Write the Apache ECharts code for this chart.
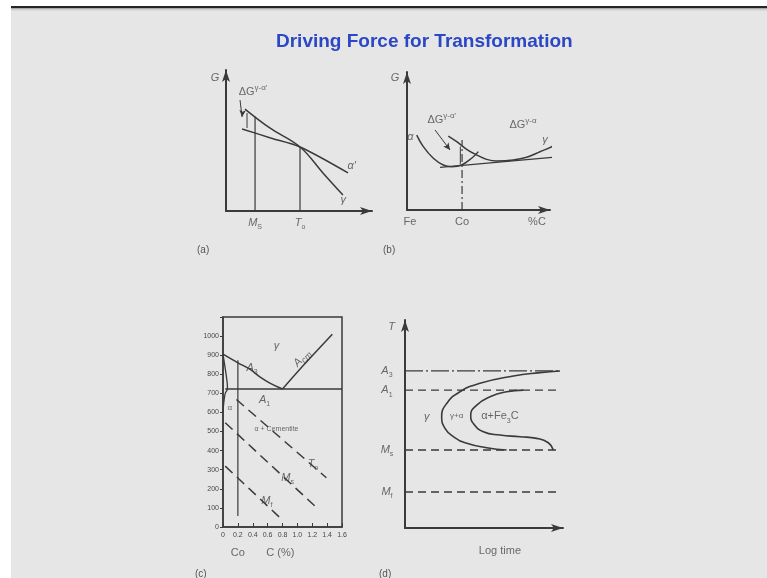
<!DOCTYPE html>
<html>
<head>
<meta charset="utf-8">
<script src="https://cdn.jsdelivr.net/npm/echarts@6/dist/echarts.min.js"></script>
<style>
  html, body {margin: 0; padding: 0; background: #fff;}
  #chart {width: 767px; height: 578px;}
</style>
</head>
<body>
<div id="chart"></div>
<script>
// (a) G against temperature
const aGamma = [[13, 72.3], [30, 58.9], [50.7, 45.4], [66.4, 27.0], [80.1, 11.3]];
const aAlphaPrime = [[11, 58.2], [30, 52.0], [50.7, 45.4], [83.6, 27.0]];
const aMsLine = [[19.9, 0], [19.9, 67]];
const aT0Line = [[50.7, 0], [50.7, 45.4]];
const aGap = [[14.4, 69.5], [14.4, 58.9]];
const aArrow = [[9.6, 78.7], [11, 66.7]];

// (b) G against carbon content
const bAlpha = [[6.8, 54.3], [11.4, 45.9], [18.4, 37.5], [25.4, 32.6], [31.3, 31.4], [38.2, 32.6], [45.2, 37.5], [49.9, 42.3]];
const bGamma = [[28.9, 53.6], [34.8, 49.5], [41.7, 44.0], [48.7, 39.9], [55.7, 36.7], [62.7, 35.5], [74.3, 36.2], [83.7, 38.2], [93.0, 42.2], [102.3, 46.4], [109.3, 51.2]];
const bTangent = [[23.1, 30.9], [105.8, 38.6]];
const bCoLine = [[38.5, 0], [38.5, 50.7]];
const bGap = [[37.3, 33.2], [37.3, 46]];
const bArrow = [[19.6, 58], [30.1, 43.5]];

// (c) Fe-C diagram, carbon % against temperature
const cA3 = [[0, 905], [0.2, 860], [0.36, 827], [0.5, 785], [0.63, 754], [0.8, 723]];
const cAcm = [[0.8, 723], [1.1, 855], [1.47, 1010]];
const cA1 = [[0.03, 723], [1.6, 723]];
const cAlphaEdge = [[0, 905], [0.03, 830], [0.055, 760], [0.06, 723], [0.03, 700], [0.01, 650], [0, 600]];
const cCoLine = [[0.2, 58], [0.2, 874]];
const cT0 = [[0.18, 668], [1.39, 258]];
const cMs = [[0.03, 546], [1.26, 101]];
const cMf = [[0.03, 319], [0.79, 40]];

// (d) temperature against log time
const dLevels = [75.5, 66.3, 37.5, 17.3];
const dOuter = [[98.1, 75.5], [85.4, 74.7], [68.6, 73.1], [47.5, 69.6], [34.8, 65.5], [26.4, 59.9], [23.2, 53.5], [25.3, 47.9], [30.6, 43.9], [39.1, 40.7], [51.7, 38.6], [64.3, 37.5]];
const dInner = [[74.9, 66.3], [64.4, 65.5], [53.8, 63.1], [45.4, 59.1], [41.6, 54.3], [43.2, 50.3], [49.6, 46.3], [60.1, 44.7], [72.8, 43.9], [83.3, 43.1], [90.7, 41.0], [93.9, 37.5]];

const ink = "#3a3a3a";
const txt = "#474747";
const font = "Liberation Sans";

const rich = {
  t: {fontSize: 11, color: txt, fontFamily: font, lineHeight: 16, verticalAlign: "middle"},
  it: {fontSize: 11, color: txt, fontFamily: font, fontStyle: "italic", lineHeight: 16, verticalAlign: "middle"},
  s: {fontSize: 8, color: txt, fontFamily: font, lineHeight: 16, verticalAlign: "middle"},
  sup: {fontSize: 8, color: txt, fontFamily: font, lineHeight: 8, verticalAlign: "top"},
  sub: {fontSize: 7, color: txt, fontFamily: font, lineHeight: 8, verticalAlign: "bottom"},
  sub2: {fontSize: 9, color: txt, fontFamily: font, fontStyle: "italic", lineHeight: 12, verticalAlign: "bottom"},
  tiny: {fontSize: 7, color: txt, fontFamily: font, lineHeight: 10, verticalAlign: "middle"},
};

function line(gi, data, opts) {
  opts = opts || {};
  return {
    type: "line", xAxisIndex: gi, yAxisIndex: gi, data: data,
    symbol: "none", smooth: opts.smooth || false, clip: false, silent: true, animation: false,
    lineStyle: {color: ink, width: opts.width || 1.5, type: opts.type || "solid"},
    itemStyle: {color: ink},
  };
}

// short pointer with an arrow head on its last point
function pointer(gi, data, rotate) {
  const s = line(gi, data, {width: 1});
  s.showSymbol = true;
  s.data = data.map((p, i) => (i === data.length - 1
    ? {value: p, symbol: "arrow", symbolSize: [5, 7], symbolRotate: rotate}
    : {value: p, symbol: "none"}));
  return s;
}

function labels(gi, items) {
  return {
    type: "scatter", xAxisIndex: gi, yAxisIndex: gi, symbolSize: 0, clip: false, silent: true, animation: false,
    data: items.map(it => ({
      value: [it[0], it[1]],
      label: {show: true, position: "inside", formatter: it[2], rotate: it[3] || 0, rich: rich},
    })),
  };
}

function arrowAxis(gi, min, max) {
  return {
    gridIndex: gi, type: "value", min: min, max: max,
    axisLine: {show: true, symbol: ["none", "arrow"], symbolSize: [6, 12], lineStyle: {color: ink, width: 2}},
    axisTick: {show: false}, axisLabel: {show: false}, splitLine: {show: false},
  };
}

const grids = [
  {left: 226, top: 70, width: 146, height: 141},
  {left: 407, top: 72, width: 143, height: 138},
  {left: 223, top: 317, width: 119, height: 210, show: true, borderColor: ink, borderWidth: 1.5},
  {left: 405, top: 320, width: 158, height: 208},
];

const option = {
  backgroundColor: "#e6e6e6",
  animation: false,
  title: {
    text: "Driving Force for Transformation", left: 271, top: 27,
    textStyle: {fontFamily: font, fontSize: 19, fontWeight: "bold", color: "#2b47c6"},
  },
  grid: grids,
  xAxis: [
    arrowAxis(0, 0, 100),
    arrowAxis(1, 0, 100),
    {
      gridIndex: 2, type: "value", min: 0, max: 1.6, interval: 0.2,
      axisLine: {show: true, lineStyle: {color: ink, width: 1.5}},
      axisTick: {show: true, inside: true, length: 4, lineStyle: {color: ink}},
      axisLabel: {fontSize: 7, color: txt, fontFamily: font, margin: 5, formatter: v => (v === 0 ? "0" : v.toFixed(1))},
      splitLine: {show: false},
    },
    arrowAxis(3, 0, 100),
  ],
  yAxis: [
    arrowAxis(0, 0, 100),
    arrowAxis(1, 0, 100),
    {
      gridIndex: 2, type: "value", min: 0, max: 1100, interval: 100,
      axisLine: {show: true, lineStyle: {color: ink, width: 1.5}},
      axisTick: {show: true, length: 3, lineStyle: {color: ink}},
      axisLabel: {fontSize: 7, color: txt, fontFamily: font, margin: 4, formatter: v => (v > 1000 ? "" : String(v))},
      splitLine: {show: false},
    },
    arrowAxis(3, 0, 100),
  ],
  graphic: [
    {type: "rect", shape: {x: 0, y: 0, width: 11, height: 578}, style: {fill: "#ffffff"}, silent: true},
    {type: "rect", shape: {x: 0, y: 0, width: 767, height: 6}, style: {fill: "#ffffff"}, silent: true},
    {type: "rect", shape: {x: 11, y: 6, width: 756, height: 2.5}, style: {fill: "#262626"}, silent: true},
    {type: "rect", shape: {x: 11, y: 8.5, width: 756, height: 2}, style: {fill: "#cfcfcf"}, silent: true},
    {type: "text", left: 197, top: 245, style: {text: "(a)", fontSize: 10, fill: "#555", fontFamily: font}},
    {type: "text", left: 383, top: 245, style: {text: "(b)", fontSize: 10, fill: "#555", fontFamily: font}},
    {type: "text", left: 195, top: 569, style: {text: "(c)", fontSize: 10, fill: "#555", fontFamily: font}},
    {type: "text", left: 379, top: 569, style: {text: "(d)", fontSize: 10, fill: "#555", fontFamily: font}},
  ],
  series: [
    // (a)
    line(0, aGamma, {smooth: 0.4}),
    line(0, aAlphaPrime, {smooth: 0.3}),
    line(0, aMsLine, {width: 1.2}),
    line(0, aT0Line, {width: 1.2}),
    line(0, aGap, {width: 1}),
    pointer(0, aArrow, 175),
    labels(0, [
      [-7.5, 94.3, "{it|G}"],
      [18.5, 84.4, "{t|ΔG}{sup|γ-α'}"],
      [86.1, 31.9, "{it|α'}"],
      [80.3, 7.8, "{it|γ}"],
      [19.9, -8.5, "{it|M}{sub|S}"],
      [50.7, -8.5, "{it|T}{sub|o}"],
    ]),
    // (b)
    line(1, bAlpha, {smooth: 0.4}),
    line(1, bGamma, {smooth: 0.4}),
    line(1, bTangent, {width: 1.2}),
    line(1, bCoLine, {width: 1.2, type: [8, 3, 2, 3]}),
    line(1, bGap, {width: 1}),
    pointer(1, bArrow, 217),
    labels(1, [
      [-8.4, 95.7, "{it|G}"],
      [2.3, 53, "{it|α}"],
      [24.3, 65.2, "{t|ΔG}{sup|γ-α'}"],
      [81.1, 61.6, "{t|ΔG}{sup|γ-α}"],
      [96.5, 50.7, "{it|γ}"],
      [2.1, -8.7, "{t|Fe}"],
      [38.5, -8.7, "{t|Co}"],
      [90.9, -8.7, "{t|%C}"],
    ]),
    // (c)
    line(2, cA3, {smooth: 0.4}),
    line(2, cAcm, {smooth: 0.3}),
    line(2, cA1),
    line(2, cAlphaEdge, {smooth: 0.3, width: 1.3}),
    line(2, cCoLine, {width: 1.2}),
    line(2, cT0, {type: [10, 6]}),
    line(2, cMs, {type: [10, 6]}),
    line(2, cMf, {type: [10, 6]}),
    labels(2, [
      [0.72, 948, "{it|γ}"],
      [0.39, 835, "{it|A}{sub|3}"],
      [1.06, 885, "{it|A}{sub2|cm}", 48],
      [0.56, 668, "{it|A}{sub|1}"],
      [0.09, 625, "{s|α}"],
      [0.72, 515, "{tiny|α + Cementite}"],
      [1.21, 330, "{it|T}{sub|o}"],
      [0.87, 257, "{it|M}{sub|s}"],
      [0.59, 136, "{it|M}{sub|f}"],
      [0.2, -136, "{t|Co}"],
      [0.77, -136, "{t|C (%)}"],
    ]),
    // (d)
    line(3, [[0, dLevels[0]], [98, dLevels[0]]], {width: 1.3, type: [18, 3, 2, 3]}),
    line(3, [[0, dLevels[1]], [98, dLevels[1]]], {width: 1.3, type: [8, 5]}),
    line(3, [[0, dLevels[2]], [98, dLevels[2]]], {width: 1.3, type: [8, 5]}),
    line(3, [[0, dLevels[3]], [98, dLevels[3]]], {width: 1.3, type: [8, 5]}),
    line(3, dOuter, {smooth: 0.5, width: 1.6}),
    line(3, dInner, {smooth: 0.5, width: 1.6}),
    labels(3, [
      [-8.4, 96.8, "{it|T}"],
      [-11.4, dLevels[0], "{it|A}{sub|3}"],
      [-11.4, dLevels[1], "{it|A}{sub|1}"],
      [-11.4, dLevels[2], "{it|M}{sub|s}"],
      [-11.4, dLevels[3], "{it|M}{sub|f}"],
      [13.7, 53.5, "{it|γ}"],
      [32.7, 53.8, "{s|γ+α}"],
      [60.1, 53.8, "{t|α+Fe}{sub|3}{t|C}"],
      [60.1, -11.1, "{t|Log time}"],
    ]),
  ],
};

const chart = echarts.init(document.getElementById("chart"));
chart.setOption(option);
</script>
</body>
</html>
